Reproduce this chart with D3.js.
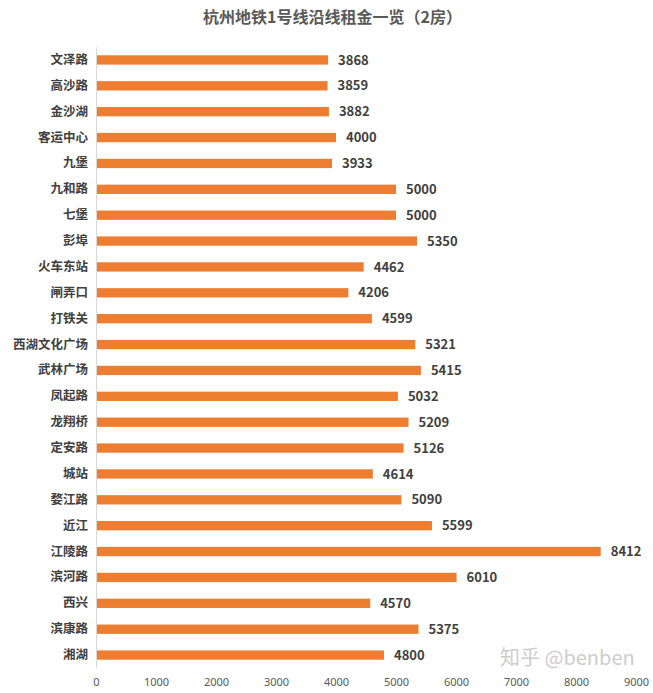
<!DOCTYPE html>
<html>
<head>
<meta charset="utf-8">
<script src="https://cdn.jsdelivr.net/npm/d3@7"></script>
<style>
  body { margin: 0; background: #fff; }
  text { font-family: "Noto Sans CJK SC", "Noto Sans", sans-serif; }
</style>
</head>
<body>
<div id="chart"></div>
<script>
var stations = ["文泽路", "高沙路", "金沙湖", "客运中心", "九堡", "九和路", "七堡", "彭埠",
    "火车东站", "闸弄口", "打铁关", "西湖文化广场", "武林广场", "凤起路", "龙翔桥", "定安路",
    "城站", "婺江路", "近江", "江陵路", "滨河路", "西兴", "滨康路", "湘湖"];
var rents = [3868, 3859, 3882, 4000, 3933, 5000, 5000, 5350,
    4462, 4206, 4599, 5321, 5415, 5032, 5209, 5126,
    4614, 5090, 5599, 8412, 6010, 4570, 5375, 4800];
var ticks = [0, 1000, 2000, 3000, 4000, 5000, 6000, 7000, 8000, 9000];

var width = 653, height = 693;
var margin = { top: 47, right: 17, bottom: 25, left: 96 };

var svg = d3.select("#chart")
    .append("svg")
    .attr("width", width)
    .attr("height", height);

var x = d3.scaleLinear().domain([0, 9000]).range([margin.left, width - margin.right]);
var y = d3.scaleBand().domain(stations).range([margin.top, height - margin.bottom]).paddingInner(0.64).paddingOuter(0.32);

// title
svg.append("text")
    .attr("x", width / 2 + 6)
    .attr("y", 23)
    .attr("text-anchor", "middle")
    .attr("font-size", "16px")
    .attr("font-weight", "bold")
    .attr("fill", "#595959")
    .text("杭州地铁1号线沿线租金一览（2房）");

// bars
svg.selectAll(".bar")
    .data(rents)
    .enter()
    .append("rect")
    .attr("class", "bar")
    .attr("x", x(0))
    .attr("y", function (d, i) { return y(stations[i]) })
    .attr("width", function (d) { return x(d) - x(0) })
    .attr("height", y.bandwidth())
    .attr("fill", "#ED7D31");

// value labels
svg.selectAll(".val")
    .data(rents)
    .enter()
    .append("text")
    .attr("class", "val")
    .attr("x", function (d) { return x(d) + 10 })
    .attr("y", function (d, i) { return y(stations[i]) + y.bandwidth() / 2 })
    .attr("dy", "0.36em")
    .attr("font-size", "13px")
    .attr("font-weight", "bold")
    .attr("fill", "#404040")
    .text(function (d) { return d });

// y axis
var yAxis = svg.append("g")
    .attr("transform", "translate(" + x(0) + ",0)")
    .call(d3.axisLeft(y).tickSize(0).tickPadding(8));
yAxis.select(".domain").attr("stroke", "#d9d9d9");
yAxis.selectAll("text")
    .attr("font-size", "12.5px")
    .attr("font-weight", "bold")
    .attr("fill", "#404040")
    .style("font-family", "\"Noto Sans CJK SC\", sans-serif");

// x axis (labels only)
var xAxis = svg.append("g")
    .attr("transform", "translate(0," + (height - margin.bottom) + ")")
    .call(d3.axisBottom(x).tickValues(ticks).tickSize(0).tickPadding(10).tickFormat(d3.format("d")));
xAxis.select(".domain").remove();
xAxis.selectAll("text")
    .attr("font-size", "11px")
    .attr("fill", "#595959")
    .style("font-family", "\"Noto Sans\", sans-serif");

// watermark
svg.append("text")
    .attr("x", 500)
    .attr("y", 665)
    .attr("font-size", "20px")
    .attr("fill", "#c8c8c8")
    .attr("opacity", 0.9)
    .text("知乎 @benben");
</script>
</body>
</html>
